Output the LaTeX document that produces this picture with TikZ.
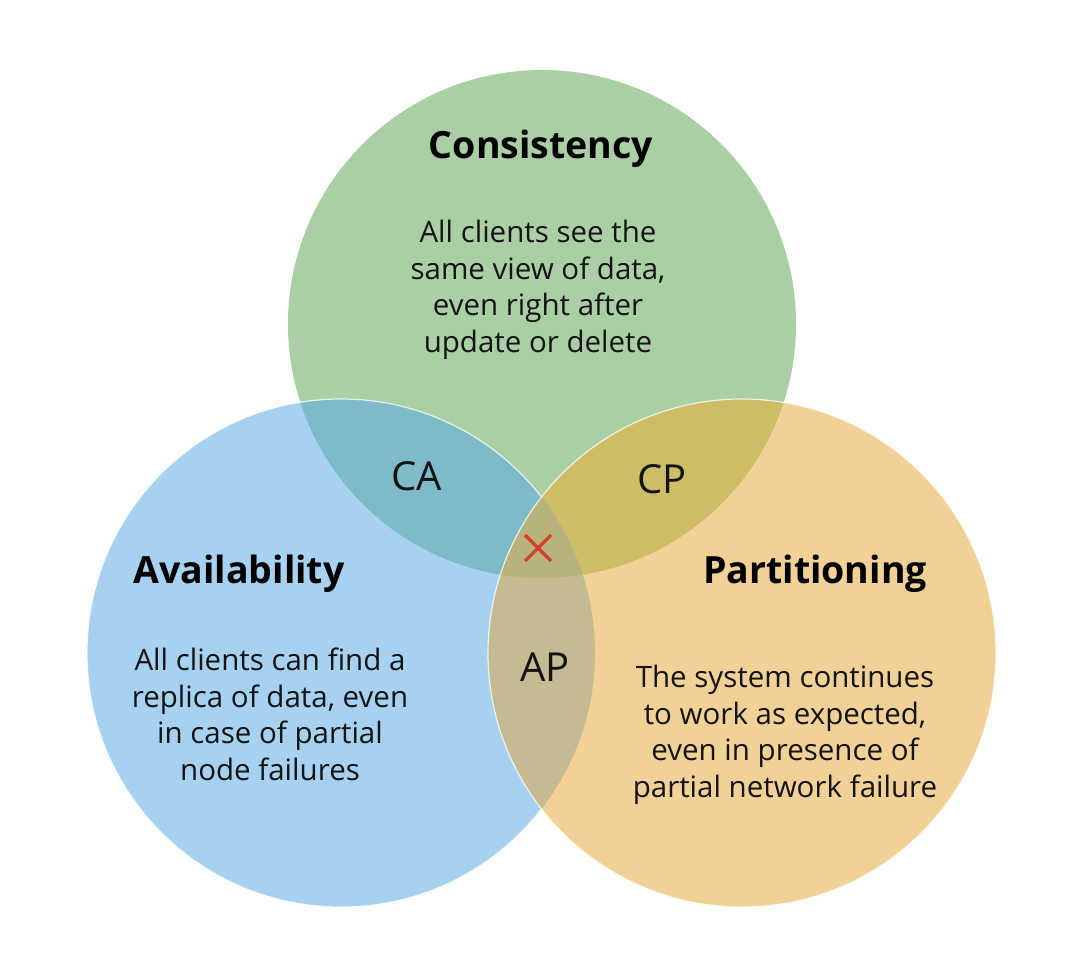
\documentclass[tikz,border=0pt]{standalone}
\usepackage{fontspec}
\setmainfont{Open Sans}
\definecolor{gC}{RGB}{170,207,164}
\definecolor{bA}{RGB}{167,209,240}
\definecolor{oP}{RGB}{242,209,151}
\definecolor{cCA}{RGB}{126,186,199}
\definecolor{cCP}{RGB}{205,189,102}
\definecolor{cAP}{RGB}{197,187,146}
\definecolor{cCAP}{RGB}{184,178,124}
\definecolor{txt}{RGB}{20,20,20}
\definecolor{xred}{RGB}{216,64,42}
\begin{document}
\begin{tikzpicture}[x=1pt,y=-1pt,
  title/.style={inner sep=0pt,anchor=base,font=\fontsize{37.5}{40}\selectfont\bfseries,text=black},
  body/.style={inner sep=0pt,anchor=base,align=center,font=\fontsize{29.5}{36.5}\selectfont,text=txt},
  pair/.style={inner sep=0pt,anchor=base,font=\fontsize{40}{44}\selectfont,text=txt},
  edge/.style={draw=white,draw opacity=0.75,line width=1.2pt}]
\useasboundingbox (0,0) rectangle (1084,966);
\fill[white] (0,0) rectangle (1084,966);
\coordinate (C) at (542,324);
\coordinate (A) at (341,653);
\coordinate (P) at (742,653);
\def\R{254}
% green and blue
\fill[gC] (C) circle (\R);
\fill[bA] (A) circle (\R);
\begin{scope}\clip (C) circle (\R); \fill[cCA] (A) circle (\R); \end{scope}
\draw[edge] (A) circle (\R);
% orange on top
\fill[oP] (P) circle (\R);
\begin{scope}\clip (P) circle (\R); \fill[cCP] (C) circle (\R); \fill[cAP] (A) circle (\R);
  \clip (C) circle (\R); \fill[cCAP] (A) circle (\R); \end{scope}
\draw[edge] (P) circle (\R);
% titles
\node[title] (tC) at (541,158) {Consistency};
\node[title] (tA) at (239,583) {Availability};
\node[title] (tP) at (815,583) {Partitioning};
% bodies (anchor = baseline of last line)
\node[body] (bC) at (538,352) {All clients see the\\same view of data,\\even right after\\update or delete};
\node[body] (bA) at (270,780) {All clients can find a\\replica of data, even\\in case of partial\\node failures};
\node[body] (bP) at (785,797) {The system continues\\to work as expected,\\even in presence of\\partial network failure};
% pair labels
\node[pair] (lCA) at (417,490) {CA};
\node[pair] (lCP) at (662,493) {CP};
\node[pair] (lAP) at (545,681) {AP};
% x mark
\coordinate (x1) at (525,535); \coordinate (x2) at (551,561);
\coordinate (x3) at (551,535); \coordinate (x4) at (525,561);
\draw[xred,line width=3.2pt] (x1) -- (x2) (x3) -- (x4);
\end{tikzpicture}
\end{document}
